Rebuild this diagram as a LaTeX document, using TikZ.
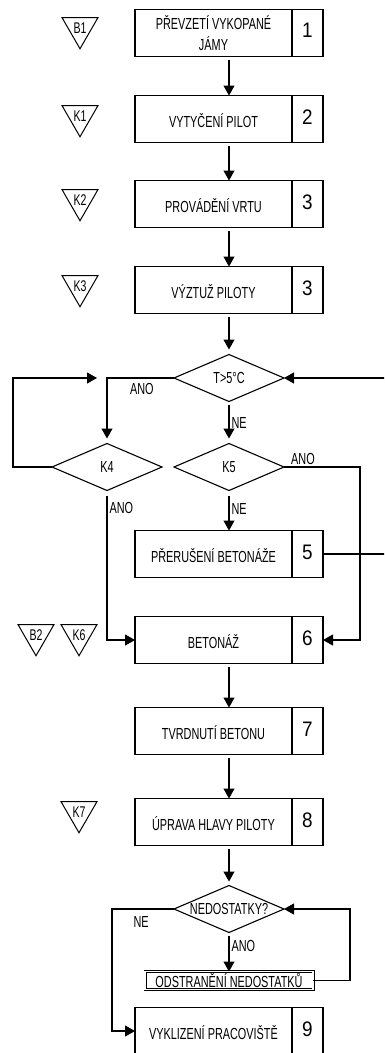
\documentclass[tikz,border=0pt]{standalone}
\usepackage{fontspec}
\setmainfont{Liberation Sans}[FakeStretch=0.68]
\newfontfamily\numfont{Liberation Sans}[FakeStretch=0.9]
\usetikzlibrary{arrows.meta,positioning,shapes.geometric}
\newcommand{\steptxt}[2]{\parbox{157pt}{\centering #1}\makebox[31pt]{\numfont\fontsize{21}{21}\selectfont #2}}

\begin{document}
\begin{tikzpicture}[x=1pt, y=1pt,
  box/.style={draw, line width=1.1pt, minimum width=188pt, minimum height=47pt,
              inner xsep=0pt, inner ysep=2pt, outer sep=0pt,
              font=\fontsize{16}{21}\selectfont,
              path picture={\draw[line width=1.1pt]
                ([xshift=-31pt]path picture bounding box.north east) --
                ([xshift=-31pt]path picture bounding box.south east);}},
  fixbox/.style={draw, double, double distance=1.4pt, line width=0.8pt,
              minimum width=168pt, minimum height=18pt, inner sep=0pt, outer sep=0pt,
              font=\fontsize{16}{16}\selectfont},
  dia/.style={diamond, draw, line width=1.1pt, aspect=2.34, minimum width=110pt,
              minimum height=47pt, inner sep=0pt, outer sep=0pt,
              font=\fontsize{16}{16}\selectfont},
  chk/.style={regular polygon, regular polygon sides=3, shape border rotate=180,
              draw, line width=1pt, minimum size=41.5pt, inner sep=0pt, outer sep=0pt,
              font=\fontsize{15.5}{15.5}\selectfont},
  arr/.style={-{Triangle[length=10pt, width=11pt]}, line width=1.1pt},
  lbl/.style={font=\fontsize{16}{16}\selectfont, inner sep=2pt},
  node distance=40pt,
]
\useasboundingbox (0,0) rectangle (384,-1053);
\clip (0,0) rectangle (384,-1053);

% main column
\node[box] (b1) at (229,-33) {\steptxt{PŘEVZETÍ VYKOPANÉ\\JÁMY}{1}};
\node[box, below=39pt of b1] (b2) {\steptxt{VYTYČENÍ PILOT}{2}};
\node[box, below=38pt of b2] (b3) {\steptxt{PROVÁDĚNÍ VRTU}{3}};
\node[box, below=39pt of b3] (b4) {\steptxt{VÝZTUŽ PILOTY}{3}};
\node[dia, below=41pt of b4] (d1) {T>5°C};
\node[dia, below=42pt of d1] (k5) {K5};
\node[dia, left=12pt of k5] (k4) {K4};
\node[box, below=of k5] (b5) {\steptxt{PŘERUŠENÍ BETONÁŽE}{5}};
\node[box, below=39pt of b5] (b6) {\steptxt{BETONÁŽ}{6}};
\node[box, below=44pt of b6] (b7) {\steptxt{TVRDNUTÍ BETONU}{7}};
\node[box, below=44pt of b7] (b8) {\steptxt{ÚPRAVA HLAVY PILOTY}{8}};
\node[dia, below=of b8] (d2) {NEDOSTATKY?};
\node[fixbox, below=39pt of d2] (fix) {ODSTRANĚNÍ NEDOSTATKŮ};
\node[box, below=18pt of fix] (b9) {\steptxt{VYKLIZENÍ PRACOVIŠTĚ}{9}};

% control marks
\node[chk] (m1) at ([xshift=-55pt, yshift=5pt]b1.west) {B1};
\node[chk] (m2) at ([xshift=-55pt, yshift=3pt]b2.west) {K1};
\node[chk] (m3) at ([xshift=-55pt, yshift=4pt]b3.west) {K2};
\node[chk] (m4) at ([xshift=-55pt, yshift=4pt]b4.west) {K3};
\node[chk] (m6) at ([xshift=-56pt, yshift=5pt]b6.west) {K6};
\node[chk] (m5) at ([xshift=-43pt]m6.center) {B2};
\node[chk] (m7) at ([xshift=-56pt, yshift=10pt]b8.west) {K7};

% flow
\draw[arr, shorten <=3pt] (b1) -- (b2);
\draw[arr, shorten <=3pt] (b2) -- (b3);
\draw[arr, shorten <=3pt] (b3) -- (b4);
\draw[arr, shorten <=3pt, shorten >=5pt] (b4) -- (d1);
\draw[arr, shorten >=5pt] (d1.west) -| node[lbl, pos=0.24, below=3pt]{ANO} (k4.north);
\draw[arr, shorten <=3pt, shorten >=5pt] (d1.south) -- node[lbl, right]{NE} (k5.north);
\draw[arr] (k4.west) -- ++(-39,0) |- ([xshift=-10pt]k4.north |- d1.west);
\draw[arr] (k5.east) -- node[lbl, above, pos=0.25]{ANO} ++(76,0) |- (b6.east);
\draw[arr, shorten <=5pt] (k4.south) |- node[lbl, pos=0.06, right]{ANO} (b6.west);
\draw[arr, shorten <=5pt] (k5.south) -- node[lbl, right, pos=0.45]{NE} (b5.north);
\draw[arr] (b5.east) -- ++(67,0) |- (d1.east);
\draw[arr, shorten <=3pt] (b6) -- (b7);
\draw[arr, shorten <=3pt] (b7) -- (b8);
\draw[arr, shorten <=3pt, shorten >=4pt] (b8) -- (d2);
\draw[arr, shorten <=3pt] (d2.south) -- node[lbl, right, pos=0.35]{ANO} (fix.north);
\draw[arr] (fix.east) -- ++(37,0) |- (d2.east);
\draw[arr] (d2.west) -- node[lbl, pos=0.53, below=5pt]{NE} ++(-62,0) |- (b9.west);
\end{tikzpicture}
\end{document}
